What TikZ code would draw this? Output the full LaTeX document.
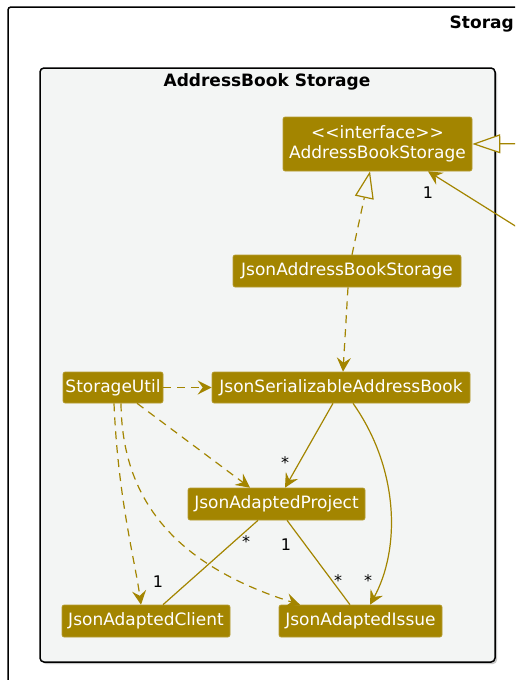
\documentclass[tikz,border=0pt]{standalone}
\usepackage{fontspec}
\setmainfont{DejaVu Sans}
\usetikzlibrary{arrows.meta,calc}
\definecolor{umlgold}{HTML}{A38500}
\definecolor{pkgbg}{HTML}{F3F5F4}
\begin{document}
\begin{tikzpicture}[x=1pt,y=-1pt,
  cls/.style={fill=umlgold, draw=umlgold!80!white, line width=0.6pt, rounded corners=2pt, text=white,
    minimum height=32, inner sep=0pt, font=\fontsize{17}{20}\selectfont},
  lbl/.style={text=black, inner sep=0pt, font=\fontsize{16}{18}\selectfont},
  ttl/.style={text=black, inner sep=0pt, font=\fontsize{17}{20}\selectfont\bfseries},
  edge/.style={draw=umlgold, line width=1.2pt},
  dep/.style={edge, dash pattern=on 8pt off 6pt, -{Stealth[length=14pt,width=14pt,inset=5pt]}},
  assoc/.style={edge, -{Stealth[length=14pt,width=14pt,inset=5pt]}},
  real/.style={edge, dash pattern=on 8pt off 6pt, -{Triangle[open,length=27pt,width=19pt,fill=pkgbg]}},
  gen/.style={edge, -{Triangle[open,length=28pt,width=19pt,fill=pkgbg]}}
]
\useasboundingbox (0,0) rectangle (515,680);
\clip (0,0) rectangle (515,680);
\fill[white] (0,0) rectangle (515,680);

% outer frame
\draw[line width=1.5pt, rounded corners=3pt] (8,720) |- (560,7);
\node[ttl, anchor=base east] (outerttl) at (514,28) {Storag};

% package
\fill[gray!45, rounded corners=4pt] (42,70) rectangle (497,664);
\draw[fill=pkgbg, line width=1.5pt, rounded corners=4pt] (40,68) rectangle (495,662);
\node[ttl] (pkgttl) at (267,82) {AddressBook Storage};

% classes
\node[cls, minimum width=189, minimum height=54, align=center] (abs) at (377.5,144)
  {<\kern0pt<interface>\kern0pt>\\AddressBookStorage};
\node[cls, minimum width=228] (jabs) at (347,271) {JsonAddressBookStorage};
\node[cls, minimum width=100, minimum height=31] (su) at (113,387.5) {StorageUtil};
\node[cls, minimum width=258, minimum height=31] (jsab) at (341,387.5) {JsonSerializableAddressBook};
\node[cls, minimum width=177] (jap) at (276.5,504) {JsonAdaptedProject};
\node[cls, minimum width=168] (jac) at (146,621) {JsonAdaptedClient};
\node[cls, minimum width=163] (jai) at (360.5,621) {JsonAdaptedIssue};

% external endpoints
\coordinate (ext1) at (540,143.5);
\coordinate (ext2) at (560,254);

% connectors
\draw[gen] (ext1) -- (abs.east);
\draw[assoc] (ext2) -- ([xshift=50.5]abs.south);
\node[lbl] (l1) at (428,193) {1};

\draw[real] ([xshift=5]jabs.north) -- ([xshift=-7.5]abs.south);
\draw[dep] ([xshift=1]jabs.south) -- ([xshift=2]jsab.north);
\draw[dep] (su.east) -- (jsab.west);
\draw[dep] ([xshift=24]su.south) -- ([xshift=-26.5]jap.north);
\draw[dep] ([xshift=1]su.south) .. controls +(4,95) and +(-6,-44) .. ([xshift=-5]jac.north);
\draw[dep] ([xshift=8]su.south) .. controls (122,500) and (175,565) .. ([xshift=-60.5]jai.north);

\draw[assoc] ([xshift=-8]jsab.south) -- ([xshift=8.5]jap.north);
\node[lbl] (s1) at (285,463) {*};
\draw[assoc] ([xshift=12]jsab.south) .. controls (400,470) and (400,550) .. ([xshift=9.5]jai.north);
\node[lbl] (s2) at (368,581) {*};

\draw[edge] ([xshift=-18.5]jap.south) -- ([xshift=17]jac.north);
\node[lbl] (s3) at (246,542) {*};
\node[lbl] (l2) at (158,582) {1};

\draw[edge] ([xshift=10.5]jap.south) -- ([xshift=-10.5]jai.north);
\node[lbl] (l3) at (286,545) {1};
\node[lbl] (s4) at (338,581) {*};
\end{tikzpicture}
\end{document}
